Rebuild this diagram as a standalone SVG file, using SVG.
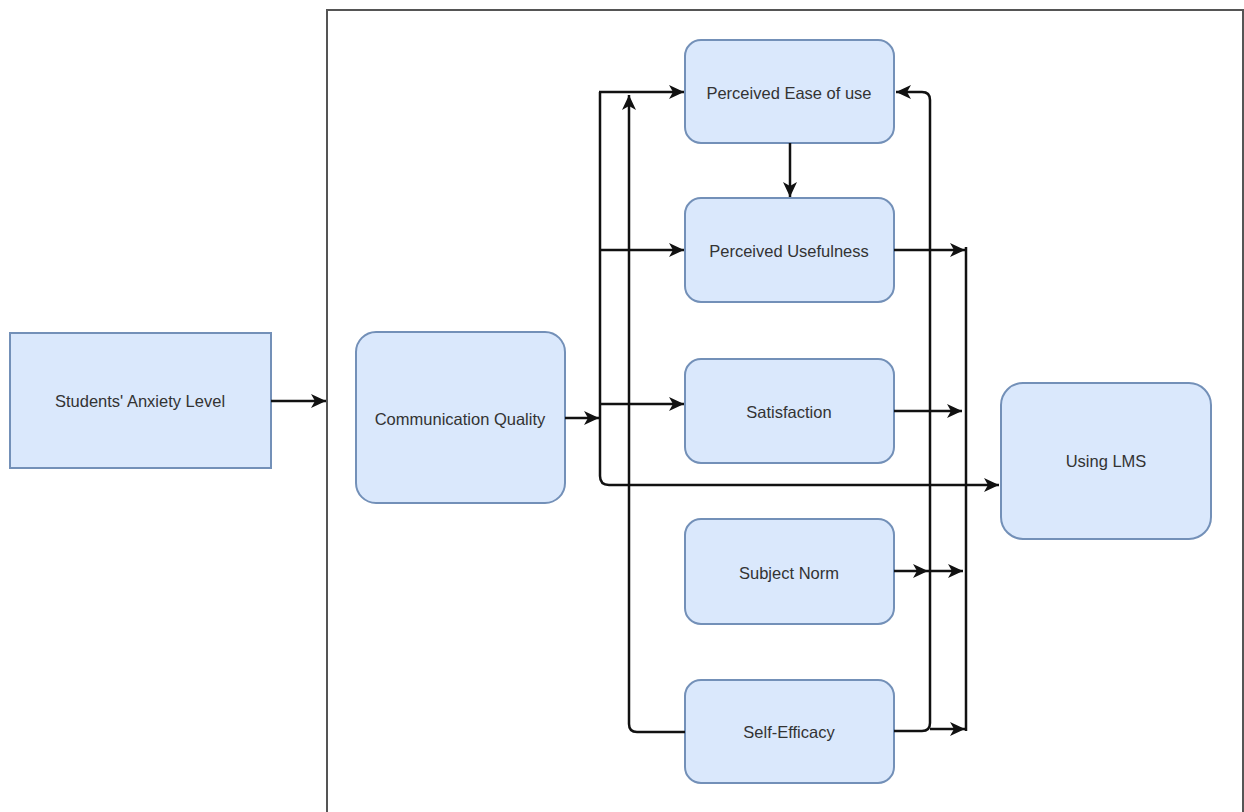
<svg xmlns="http://www.w3.org/2000/svg" width="1244" height="812" viewBox="0 0 1244 812">
  <style>
    .box { fill: #dae8fc; stroke: #7390b8; stroke-width: 2; }
    .lbl { font-family: "Liberation Sans", Arial, sans-serif; font-size: 16.5px; fill: #333333; text-anchor: middle; dominant-baseline: central; }
    .conn { fill: none; stroke: #111111; stroke-width: 2.5; }
    .frame { fill: none; stroke: #555555; stroke-width: 2; }
  </style>
  <defs>
    <marker id="arr" markerUnits="userSpaceOnUse" markerWidth="17" markerHeight="15" refX="15" refY="7" orient="auto">
      <path d="M0,0 L15,7 L0,14 L4,7 Z" fill="#111111"/>
    </marker>
  </defs>
  <rect width="1244" height="812" fill="#ffffff"/>
  <rect class="frame" x="327" y="10" width="916" height="810"/>

  <g id="n-anxiety">
    <rect class="box" x="10" y="333" width="261" height="135"/>
    <text class="lbl" x="140" y="401">Students' Anxiety Level</text>
  </g>
  <g id="n-comm">
    <rect class="box" x="356" y="332" width="209" height="171" rx="20"/>
    <text class="lbl" x="460" y="419">Communication Quality</text>
  </g>
  <g id="n-peou">
    <rect class="box" x="685" y="40" width="209" height="103" rx="16"/>
    <text class="lbl" x="789" y="93">Perceived Ease of use</text>
  </g>
  <g id="n-pu">
    <rect class="box" x="685" y="198" width="209" height="104" rx="16"/>
    <text class="lbl" x="789" y="251">Perceived Usefulness</text>
  </g>
  <g id="n-sat">
    <rect class="box" x="685" y="359" width="209" height="104" rx="16"/>
    <text class="lbl" x="789" y="412">Satisfaction</text>
  </g>
  <g id="n-sn">
    <rect class="box" x="685" y="519" width="209" height="105" rx="16"/>
    <text class="lbl" x="789" y="573">Subject Norm</text>
  </g>
  <g id="n-se">
    <rect class="box" x="685" y="680" width="209" height="103" rx="16"/>
    <text class="lbl" x="789" y="732">Self-Efficacy</text>
  </g>
  <g id="n-lms">
    <rect class="box" x="1001" y="383" width="210" height="156" rx="22"/>
    <text class="lbl" x="1106" y="461">Using LMS</text>
  </g>

  <g id="connectors">
    <path class="conn" d="M271,401 H326" marker-end="url(#arr)"/>
    <path class="conn" d="M565,418 H599" marker-end="url(#arr)"/>
    <path class="conn" d="M600,92 V476 Q600,485 609,485 H999" marker-end="url(#arr)"/>
    <path class="conn" d="M599,92 H684" marker-end="url(#arr)"/>
    <path class="conn" d="M600,250 H684" marker-end="url(#arr)"/>
    <path class="conn" d="M600,404 H684" marker-end="url(#arr)"/>
    <path class="conn" d="M685,732 H637 Q629,732 629,724 V95" marker-end="url(#arr)"/>
    <path class="conn" d="M894,731 H922 Q930,731 930,723 V100 Q930,92 922,92 H896" marker-end="url(#arr)"/>
    <path class="conn" d="M790,143 V197" marker-end="url(#arr)"/>
    <path class="conn" d="M894,250 H965" marker-end="url(#arr)"/>
    <path class="conn" d="M966,247 V731"/>
    <path class="conn" d="M894,411 H962" marker-end="url(#arr)"/>
    <path class="conn" d="M894,571 H928" marker-end="url(#arr)"/>
    <path class="conn" d="M928,571 H963" marker-end="url(#arr)"/>
    <path class="conn" d="M930,729 H965" marker-end="url(#arr)"/>
  </g>
</svg>
